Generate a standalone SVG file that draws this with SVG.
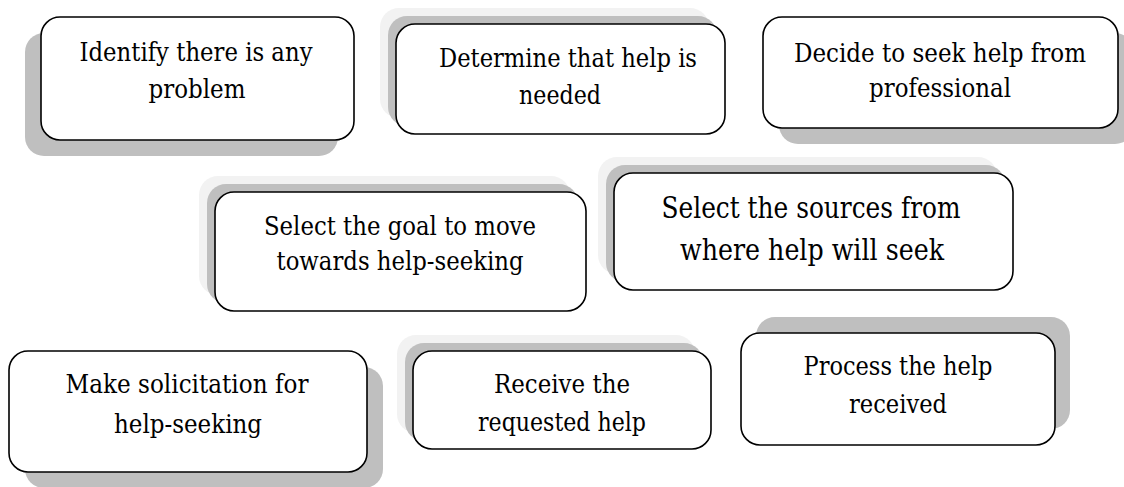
<svg xmlns="http://www.w3.org/2000/svg" width="1124" height="487" viewBox="0 0 1124 487">
<style>
.box{fill:#fff;stroke:#000;stroke-width:1.6}
.sh{fill:#bfbfbf}
.sh2{fill:#f2f2f2}
text{font-family:'DejaVu Serif','Liberation Serif',serif;font-size:26px;fill:#000;text-anchor:middle}
.tl{font-size:29px}
</style>
<rect width="1124" height="487" fill="#fff"/>
<g id="connectors"/>
<g id="n1">
<rect class="sh" x="25" y="33" width="313" height="123" rx="19"/>
<rect class="box" x="41" y="17" width="313" height="123" rx="19"/>
<text x="196" y="61" textLength="233" lengthAdjust="spacingAndGlyphs">Identify there is any</text>
<text x="197" y="98" textLength="97" lengthAdjust="spacingAndGlyphs">problem</text>
</g>
<g id="n2">
<rect class="sh2" x="380" y="8" width="329" height="110" rx="19"/>
<rect class="sh" x="388" y="16" width="329" height="110" rx="19"/>
<rect class="box" x="396" y="24" width="329" height="110" rx="19"/>
<text x="568" y="67" textLength="258" lengthAdjust="spacingAndGlyphs">Determine that help is</text>
<text x="560" y="104" textLength="82" lengthAdjust="spacingAndGlyphs">needed</text>
</g>
<g id="n3">
<rect class="sh" x="779" y="33" width="355" height="111" rx="19"/>
<rect class="box" x="763" y="17" width="355" height="111" rx="19"/>
<text x="940" y="62" textLength="292" lengthAdjust="spacingAndGlyphs">Decide to seek help from</text>
<text x="940" y="97" textLength="142" lengthAdjust="spacingAndGlyphs">professional</text>
</g>
<g id="n4">
<rect class="sh2" x="199" y="176" width="371" height="119" rx="19"/>
<rect class="sh" x="207" y="184" width="371" height="119" rx="19"/>
<rect class="box" x="215" y="192" width="371" height="119" rx="19"/>
<text x="400" y="235" textLength="272" lengthAdjust="spacingAndGlyphs">Select the goal to move</text>
<text x="400" y="270" textLength="247" lengthAdjust="spacingAndGlyphs">towards help-seeking</text>
</g>
<g id="n5">
<rect class="sh2" x="598" y="157" width="399" height="117" rx="19"/>
<rect class="sh" x="606" y="165" width="399" height="117" rx="19"/>
<rect class="box" x="614" y="173" width="399" height="117" rx="19"/>
<text class="tl" x="811" y="218" textLength="299" lengthAdjust="spacingAndGlyphs">Select the sources from</text>
<text class="tl" x="812" y="260" textLength="264" lengthAdjust="spacingAndGlyphs">where help will seek</text>
</g>
<g id="n6">
<rect class="sh" x="25" y="367" width="358" height="121" rx="19"/>
<rect class="box" x="9" y="351" width="358" height="121" rx="19"/>
<text x="187" y="393" textLength="243" lengthAdjust="spacingAndGlyphs">Make solicitation for</text>
<text x="188" y="433" textLength="148" lengthAdjust="spacingAndGlyphs">help-seeking</text>
</g>
<g id="n7">
<rect class="sh2" x="397" y="335" width="298" height="98" rx="19"/>
<rect class="sh" x="405" y="343" width="298" height="98" rx="19"/>
<rect class="box" x="413" y="351" width="298" height="98" rx="19"/>
<text x="562" y="393" textLength="136" lengthAdjust="spacingAndGlyphs">Receive the</text>
<text x="562" y="431" textLength="168" lengthAdjust="spacingAndGlyphs">requested help</text>
</g>
<g id="n8">
<rect class="sh" x="756" y="317" width="314" height="112" rx="19"/>
<rect class="box" x="741" y="333" width="314" height="112" rx="19"/>
<text x="898" y="375" textLength="189" lengthAdjust="spacingAndGlyphs">Process the help</text>
<text x="898" y="413" textLength="98" lengthAdjust="spacingAndGlyphs">received</text>
</g>
</svg>
